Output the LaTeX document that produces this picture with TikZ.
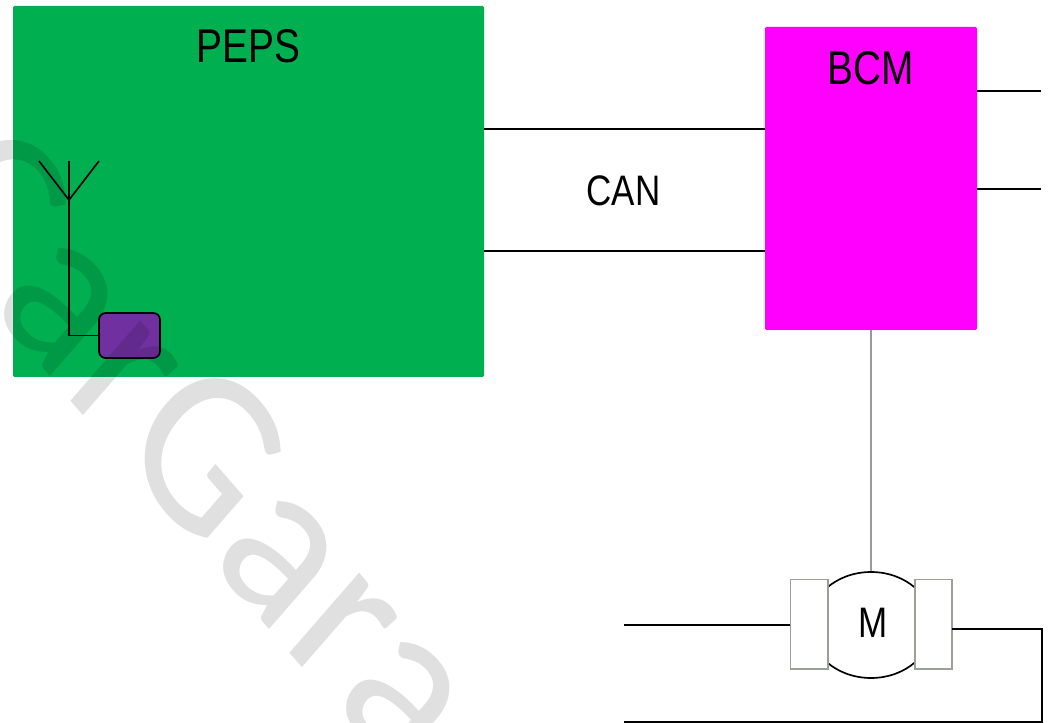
\documentclass[tikz,border=0pt]{standalone}
\usepackage{fontspec}
\setmainfont[FakeStretch=0.82]{Liberation Sans}
\newfontfamily\markfont[LetterSpace=1.5]{Carlito}
\usetikzlibrary{shapes.geometric}
\definecolor{pepsgreen}{HTML}{00B050}
\definecolor{bcmpink}{HTML}{FF00FF}
\definecolor{chipviolet}{HTML}{7030A0}
\definecolor{brushgray}{HTML}{9A9F98}
\tikzset{
  wire/.style={line width=1.25pt},
  ctrlwire/.style={line width=1.25pt, color=black!40},
  label/.style={inner sep=0pt, font=\fontsize{32}{32}\selectfont},
  title/.style={inner sep=0pt, font=\fontsize{35.5}{35}\selectfont},
  brush/.style={draw=brushgray, fill=white, line width=1.25pt, minimum width=28pt, minimum height=67pt, inner sep=0pt}
}
\begin{document}
\begin{tikzpicture}[x=.75pt, y=-.75pt]
      \useasboundingbox (0, 0) rectangle (1050, 723);

      \node[fill=pepsgreen, rounded corners=1pt, minimum width=353.25pt, minimum height=278.25pt, inner sep=0pt] (peps) at (248.5, 191.5){};
      \node[title] (pepstxt) at (248.5, 46){PEPS};
      \node[fill=bcmpink, rounded corners=1pt, minimum width=159pt, minimum height=227.25pt, inner sep=0pt] (bcm) at (871, 178.5){};
      \node[title] (bcmtxt) at (871, 68){BCM};
      \node[label] (can) at (623.5, 191){CAN};

      \coordinate (canhi) at (484, 129);
      \draw[wire] (canhi) to (canhi -| bcm.west);
      \coordinate (canlo) at (484, 251);
      \draw[wire] (canlo) to (canlo -| bcm.west);

      \coordinate (outa) at (1041, 91);
      \draw[wire] (outa -| bcm.east) to (outa);
      \coordinate (outb) at (1041, 189);
      \draw[wire] (outb -| bcm.east) to (outb);

      % antenna
      \node[draw, wire, fill=chipviolet, rounded corners=5pt, minimum width=45.75pt, minimum height=33.75pt, inner sep=0pt] (chip) at (129.5, 335.5){};
      \coordinate (anttop) at (69, 161);
      \coordinate (antfork) at (69, 200);
      \coordinate (antl) at (39, 161);
      \coordinate (antr) at (99, 161);
      \draw[wire] (anttop) -- (anttop |- chip.west) -- (chip.west);
      \draw[wire] (antl) -- (antfork) -- (antr);

      % motor
      \node[draw, wire, ellipse, minimum width=93pt, minimum height=79.5pt, inner sep=0pt] (motor) at (871, 625){};
      \node[brush] (brushl) at (809, 624){};
      \node[brush] (brushr) at (933.5, 624){};
      \node[label] (mtxt) at (873, 623){M};
      \draw[ctrlwire] (bcm.south -| motor.north) to (motor.north);

      \coordinate (inl) at (624, 625);
      \draw[wire] (inl) to (inl -| brushl.west);
      \coordinate (retin) at (952, 629);
      \coordinate (retcorner) at (1042, 722);
      \coordinate (retend) at (624, 722);
      \draw[wire] (retin) -- (retin -| retcorner) -- (retcorner) -- (retend);

      % watermark
      \begin{scope}
        \clip (0, 0) rectangle (1050, 723);
        \begin{scope}[shift={(-91, 215)}, xscale=.87]
          \node[rotate=-45, transform shape, anchor=base west, inner sep=0pt, opacity=.12, font=\markfont\fontsize{178}{178}\selectfont] (mark) at (0, 0){CarGarage};
        \end{scope}
      \end{scope}

    \end{tikzpicture}
\end{document}
